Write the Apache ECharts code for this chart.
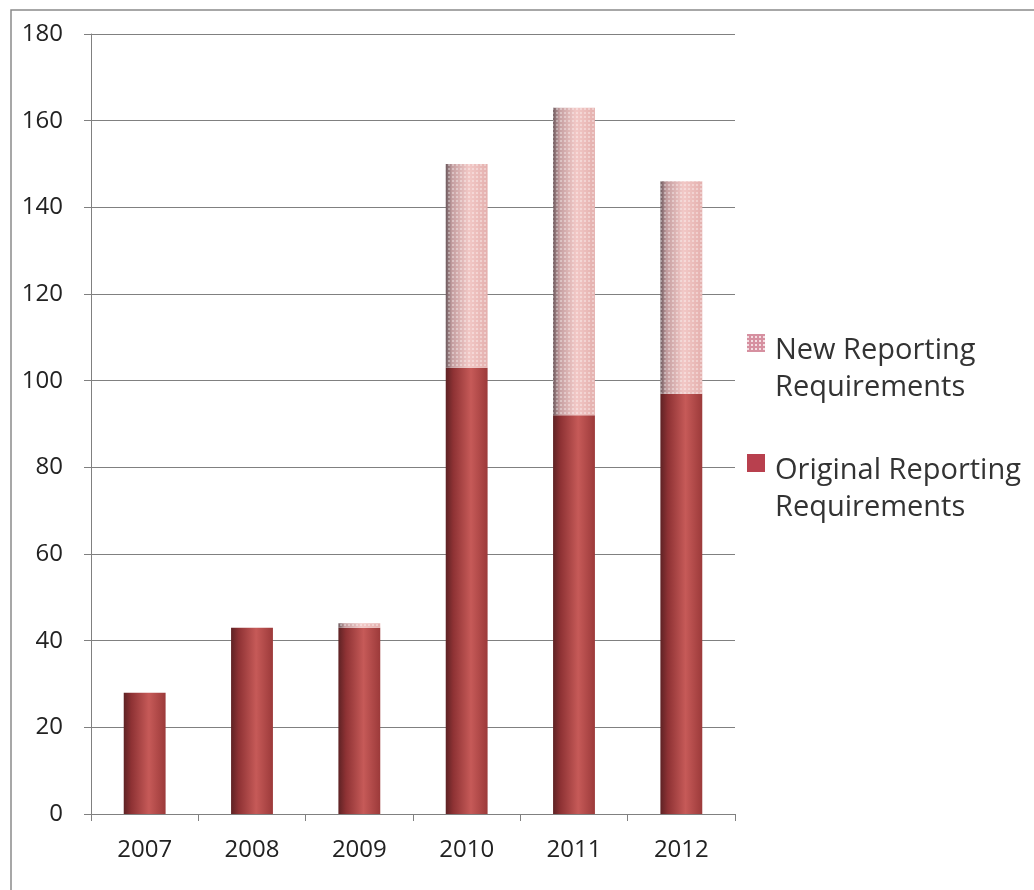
<!DOCTYPE html>
<html><head><meta charset="utf-8">
<script src="https://cdn.jsdelivr.net/npm/echarts@6/dist/echarts.min.js"></script>
<style>html,body{margin:0;padding:0;background:#fff}#c{width:1034px;height:890px}</style>
</head><body><div id="c"></div>
<script>
var categories = ['2007','2008','2009','2010','2011','2012'];
var originalValues = [28, 43, 43, 103, 92, 97];
var newValues = [0, 0, 1, 47, 71, 49];
var yTicks = [0,20,40,60,80,100,120,140,160,180];
var seriesNames = ['New Reporting\nRequirements', 'Original Reporting\nRequirements'];

var chart = echarts.init(document.getElementById('c'), null, {renderer:'canvas'});
var origGrad = new echarts.graphic.LinearGradient(0,0,1,0,[
  {offset:0, color:'#5e2224'},{offset:0.18,color:'#8e3234'},{offset:0.6,color:'#c65a58'},{offset:1,color:'#9c3a3a'}]);
var newGrad = new echarts.graphic.LinearGradient(0,0,1,0,[
  {offset:0, color:'#6e5a5e'},{offset:0.15,color:'#c49ea0'},{offset:0.55,color:'#f2c8c6'},{offset:1,color:'#e4b0ae'}]);
var iconPath = 'path://M0,4h18v18h-18z M22.98,73.98h0.02v0.02h-0.02z';
chart.setOption({
  animation:false,
  backgroundColor:'#fff',
  textStyle:{fontFamily:'"Open Sans", "Noto Sans", sans-serif'},
  graphic:[{type:'rect', shape:{x:11,y:10,width:1040,height:900}, style:{fill:'none', stroke:'#8a8a8a', lineWidth:1.5}, silent:true, z:-1}],
  grid:{left:91, right:299, top:34, bottom:76, containLabel:false},
  legend:{
    orient:'vertical', left:742, top:327, itemWidth:23, itemHeight:74, itemGap:46,
    symbolKeepAspect:true,
    textStyle:{fontSize:29, color:'#333', lineHeight:37, fontFamily:'"Open Sans", sans-serif'},
    data:[{name:seriesNames[0], icon:iconPath, itemStyle:{color:'#d690a0', decal:{symbol:'rect', symbolSize:1, dashArrayX:[2,2], dashArrayY:[2,2], color:'#f4dde2'}}},
          {name:seriesNames[1], icon:iconPath, itemStyle:{color:'#b8404e'}}]
  },
  xAxis:{type:'category', data:categories,
    axisLine:{lineStyle:{color:'#808080', width:1}},
    axisTick:{show:true, alignWithLabel:false, length:7, lineStyle:{color:'#808080'}},
    axisLabel:{fontSize:24, color:'#222', margin:24}},
  yAxis:{type:'value', min:0, max:180, interval:20,
    axisLine:{show:true, lineStyle:{color:'#808080'}},
    axisTick:{show:true, length:7, inside:false, lineStyle:{color:'#808080'}},
    axisLabel:{fontSize:24, color:'#222', margin:28, align:'right'},
    splitLine:{lineStyle:{color:'#808080', width:1}}},
  series:[
    {name:seriesNames[1], type:'bar', stack:'s', data:originalValues, barWidth:'39%',
      itemStyle:{color:origGrad}},
    {name:seriesNames[0], type:'bar', stack:'s', data:newValues, barWidth:'39%',
      itemStyle:{color:newGrad, decal:{symbol:'rect', symbolSize:1, dashArrayX:[2,2], dashArrayY:[2,2], color:'rgba(255,255,255,0.35)'}}}
  ]
});
</script></body></html>
